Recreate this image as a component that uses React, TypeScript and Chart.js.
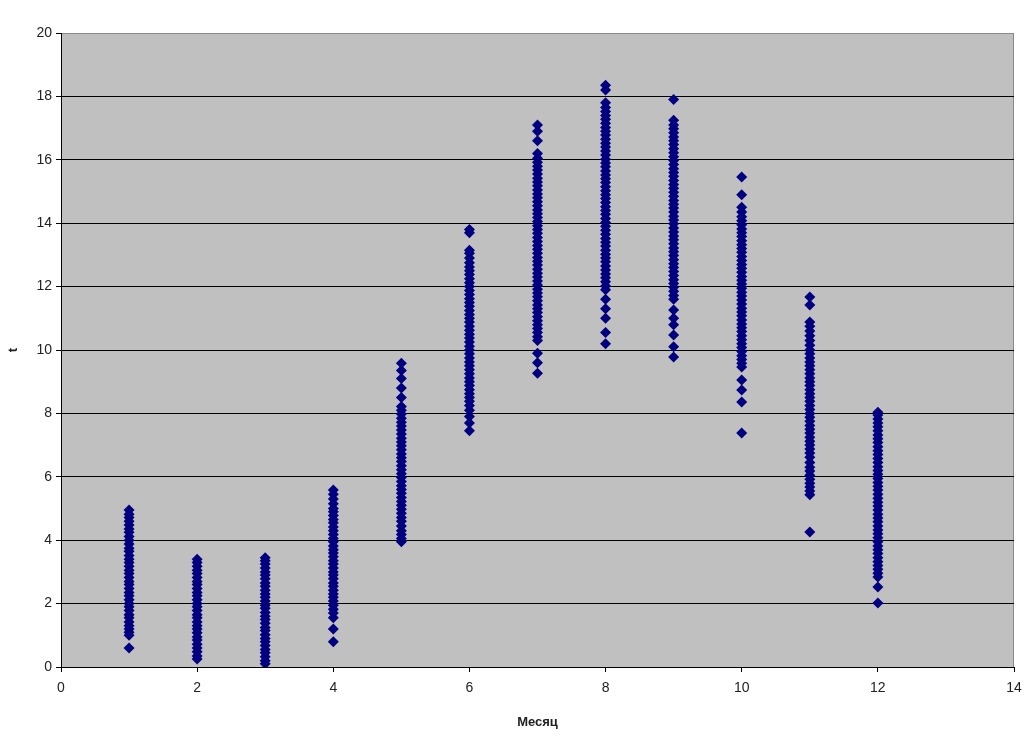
import React, { useEffect, useRef } from "react";
import { Chart, registerables } from "chart.js";

Chart.register(...registerables);

const xTickValues = [0, 2, 4, 6, 8, 10, 12, 14];
const yTickValues = [0, 2, 4, 6, 8, 10, 12, 14, 16, 18, 20];
const xTitle = "Месяц";
const yTitle = "t";

const month1 = [0.6, 1.0, 1.1, 1.2, 1.3, 1.42, 1.55, 1.65, 1.78, 1.9, 2.0, 2.12, 2.25, 2.35, 2.48, 2.6, 2.7, 2.82, 2.95, 3.05, 3.18, 3.3, 3.4, 3.52, 3.65, 3.75, 3.88, 4.0, 4.12, 4.25, 4.35, 4.48, 4.6, 4.72, 4.82, 4.95];
const month2 = [0.25, 0.35, 0.48, 0.6, 0.72, 0.85, 0.95, 1.08, 1.2, 1.3, 1.42, 1.55, 1.65, 1.78, 1.9, 2.0, 2.12, 2.25, 2.35, 2.48, 2.6, 2.7, 2.82, 2.95, 3.05, 3.18, 3.3, 3.4];
const month3 = [0.1, 0.2, 0.32, 0.45, 0.55, 0.68, 0.8, 0.9, 1.02, 1.15, 1.25, 1.38, 1.5, 1.6, 1.72, 1.85, 1.95, 2.08, 2.2, 2.3, 2.42, 2.55, 2.65, 2.78, 2.9, 3.0, 3.12, 3.25, 3.35, 3.45];
const month4 = [0.8, 1.2, 1.55, 1.7, 1.82, 1.95, 2.08, 2.2, 2.3, 2.42, 2.55, 2.65, 2.78, 2.9, 3.0, 3.12, 3.25, 3.35, 3.48, 3.6, 3.7, 3.82, 3.95, 4.05, 4.18, 4.3, 4.42, 4.55, 4.65, 4.78, 4.9, 5.0, 5.15, 5.3, 5.45, 5.58];
const month5 = [3.95, 4.05, 4.18, 4.3, 4.45, 4.6, 4.72, 4.85, 4.98, 5.1, 5.22, 5.35, 5.48, 5.6, 5.72, 5.85, 5.98, 6.1, 6.22, 6.35, 6.48, 6.6, 6.72, 6.85, 6.98, 7.1, 7.22, 7.35, 7.48, 7.6, 7.72, 7.85, 7.98, 8.1, 8.22, 8.5, 8.8, 9.1, 9.35, 9.58];
const month6 = [7.45, 7.7, 7.9, 8.1, 8.25, 8.38, 8.5, 8.62, 8.75, 8.88, 9.0, 9.12, 9.25, 9.38, 9.5, 9.62, 9.75, 9.88, 10.0, 10.12, 10.25, 10.38, 10.5, 10.62, 10.75, 10.88, 11.0, 11.12, 11.25, 11.38, 11.5, 11.62, 11.75, 11.88, 12.0, 12.12, 12.25, 12.38, 12.5, 12.62, 12.75, 12.9, 13.05, 13.15, 13.7, 13.8];
const month7 = [9.27, 9.6, 9.9, 10.3, 10.42, 10.55, 10.68, 10.8, 10.92, 11.05, 11.18, 11.3, 11.42, 11.55, 11.68, 11.8, 11.92, 12.05, 12.18, 12.3, 12.42, 12.55, 12.68, 12.8, 12.92, 13.05, 13.18, 13.3, 13.42, 13.55, 13.68, 13.8, 13.92, 14.05, 14.18, 14.3, 14.42, 14.55, 14.68, 14.8, 14.92, 15.05, 15.18, 15.3, 15.42, 15.55, 15.68, 15.8, 15.92, 16.05, 16.2, 16.6, 16.9, 17.1];
const month8 = [10.2, 10.55, 11.0, 11.3, 11.6, 11.9, 12.02, 12.15, 12.28, 12.4, 12.52, 12.65, 12.78, 12.9, 13.02, 13.15, 13.28, 13.4, 13.52, 13.65, 13.78, 13.9, 14.02, 14.15, 14.28, 14.4, 14.52, 14.65, 14.78, 14.9, 15.02, 15.15, 15.28, 15.4, 15.52, 15.65, 15.78, 15.9, 16.02, 16.15, 16.28, 16.4, 16.52, 16.65, 16.78, 16.9, 17.02, 17.15, 17.28, 17.4, 17.52, 17.65, 17.8, 18.2, 18.35];
const month9 = [9.78, 10.1, 10.47, 10.8, 11.0, 11.26, 11.6, 11.72, 11.85, 11.98, 12.1, 12.22, 12.35, 12.48, 12.6, 12.72, 12.85, 12.98, 13.1, 13.22, 13.35, 13.48, 13.6, 13.72, 13.85, 13.98, 14.1, 14.22, 14.35, 14.48, 14.6, 14.72, 14.85, 14.98, 15.1, 15.22, 15.35, 15.48, 15.6, 15.72, 15.85, 15.98, 16.1, 16.22, 16.35, 16.48, 16.6, 16.72, 16.85, 16.98, 17.1, 17.25, 17.9];
const month10 = [7.38, 8.36, 8.74, 9.05, 9.46, 9.58, 9.7, 9.82, 9.95, 10.08, 10.2, 10.32, 10.45, 10.58, 10.7, 10.82, 10.95, 11.08, 11.2, 11.32, 11.45, 11.58, 11.7, 11.82, 11.95, 12.08, 12.2, 12.32, 12.45, 12.58, 12.7, 12.82, 12.95, 13.08, 13.2, 13.32, 13.45, 13.58, 13.7, 13.82, 13.95, 14.08, 14.2, 14.35, 14.5, 14.9, 15.46];
const month11 = [4.26, 5.43, 5.55, 5.68, 5.8, 5.92, 6.05, 6.18, 6.3, 6.45, 6.62, 6.75, 6.88, 7.0, 7.12, 7.25, 7.38, 7.5, 7.62, 7.75, 7.88, 8.0, 8.12, 8.25, 8.38, 8.5, 8.62, 8.75, 8.88, 9.0, 9.12, 9.25, 9.38, 9.5, 9.62, 9.75, 9.88, 10.0, 10.15, 10.3, 10.45, 10.6, 10.75, 10.88, 11.42, 11.67];
const month12 = [2.02, 2.52, 2.84, 2.96, 3.08, 3.2, 3.32, 3.45, 3.58, 3.7, 3.82, 3.95, 4.08, 4.2, 4.32, 4.45, 4.58, 4.7, 4.82, 4.95, 5.08, 5.2, 5.32, 5.45, 5.58, 5.7, 5.82, 5.95, 6.08, 6.2, 6.32, 6.45, 6.58, 6.7, 6.82, 6.95, 7.08, 7.2, 7.32, 7.45, 7.58, 7.7, 7.82, 7.95, 8.04];

const monthSeries = [month1, month2, month3, month4, month5, month6, month7, month8, month9, month10, month11, month12];

const plotBg = {
  id: "plotBg",
  beforeDraw(chart: any) {
    const { ctx, chartArea } = chart;
    if (!chartArea) return;
    ctx.save();
    ctx.fillStyle = "#c0c0c0";
    ctx.fillRect(chartArea.left, chartArea.top, chartArea.right - chartArea.left, chartArea.bottom - chartArea.top);
    ctx.strokeStyle = "#8a8a8a";
    ctx.lineWidth = 1;
    ctx.beginPath();
    ctx.moveTo(chartArea.left, chartArea.top + 0.5);
    ctx.lineTo(chartArea.right - 0.5, chartArea.top + 0.5);
    ctx.lineTo(chartArea.right - 0.5, chartArea.bottom);
    ctx.stroke();
    ctx.restore();
  },
};

export default function App() {
  const canvasRef = useRef<HTMLCanvasElement | null>(null);

  useEffect(() => {
    document.body.style.margin = "0";
    const canvas = canvasRef.current;
    if (!canvas) return;
    const points: { x: number; y: number }[] = [];
    monthSeries.forEach((vals, i) => {
      vals.forEach((v) => points.push({ x: i + 1, y: v }));
    });
    const font = { family: "'Liberation Sans', Arial, sans-serif", size: 14 };
    const chart = new Chart(canvas, {
      type: "scatter",
      data: {
        datasets: [
          {
            data: points,
            pointStyle: "rectRot",
            pointRadius: 5.5,
            pointBackgroundColor: "#000080",
            pointBorderColor: "#000080",
            pointBorderWidth: 0,
          },
        ],
      },
      options: {
        animation: false,
        responsive: false,
        devicePixelRatio: 1,
        layout: { padding: { top: 33, right: 10, left: 0, bottom: 0 } },
        plugins: { legend: { display: false }, tooltip: { enabled: false } },
        scales: {
          x: {
            type: "linear",
            min: 0,
            max: 14,
            afterBuildTicks: (scale: any) => {
              scale.ticks = xTickValues.map((v) => ({ value: v }));
            },
            afterFit: (scale: any) => {
              scale.height = 79;
              scale.paddingLeft = 0;
              scale.paddingRight = 0;
            },
            ticks: { color: "#222", font, padding: 8, maxRotation: 0 },
            grid: { drawOnChartArea: false, drawTicks: true, tickLength: 5, tickColor: "#000", color: "#000" },
            border: { display: true, color: "#000", width: 1 },
            title: {
              display: true,
              text: xTitle,
              color: "#222",
              font: { family: "'Liberation Sans', Arial, sans-serif", size: 13, weight: "bold" },
              padding: { top: 0, bottom: 16 },
            },
          },
          y: {
            type: "linear",
            min: 0,
            max: 20,
            afterBuildTicks: (scale: any) => {
              scale.ticks = yTickValues.map((v) => ({ value: v }));
            },
            afterFit: (scale: any) => {
              scale.width = 61;
            },
            ticks: { color: "#222", font, padding: 4 },
            grid: {
              drawOnChartArea: true,
              drawTicks: true,
              tickLength: 5,
              tickColor: "#000",
              color: (ctx: any) => (ctx.tick && ctx.tick.value === 20 ? "#8a8a8a" : "#000"),
              lineWidth: 1,
            },
            border: { display: true, color: "#000", width: 1 },
            title: {
              display: true,
              text: yTitle,
              color: "#222",
              font: { family: "'Liberation Sans', Arial, sans-serif", size: 13, weight: "bold" },
              padding: { top: 6, bottom: 0 },
            },
          },
        },
      },
      plugins: [plotBg],
    } as any);
    return () => chart.destroy();
  }, []);

  return (
    <div style={{ width: 1024, height: 746, background: "#fff" }}>
      <canvas ref={canvasRef} width={1024} height={746} style={{ display: "block" }} />
    </div>
  );
}
